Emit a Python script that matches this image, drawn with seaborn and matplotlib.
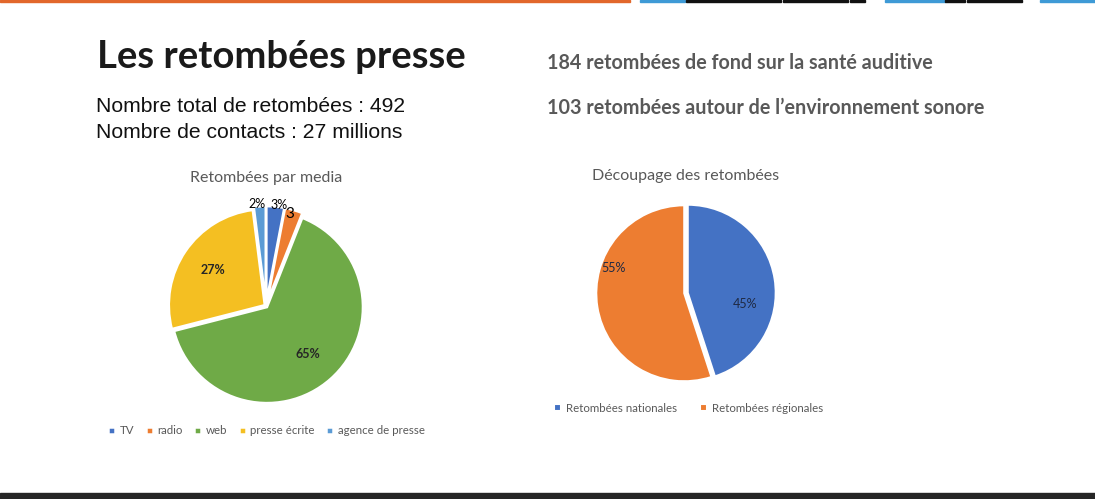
import seaborn as sns, matplotlib.pyplot as plt, numpy as np
from matplotlib.patches import Rectangle

# data
media_labels = ['TV', 'radio', 'web', 'presse écrite', 'agence de presse']
media_pct = [3, 3, 65, 27, 2]
split_labels = ['Retombées nationales', 'Retombées régionales']
split_pct = [45, 55]

title = 'Les retombées presse'
stats_lines = ['Nombre total de retombées : 492', 'Nombre de contacts : 27 millions']
right_lines = ['184 retombées de fond sur la santé auditive',
               '103 retombées autour de l\u2019environnement sonore']

sns.set_theme(style='white')
plt.rcParams['font.family'] = ['Lato', 'DejaVu Sans']

office = sns.color_palette(['#4472C4', '#ED7D31', '#6FAA47', '#F4BF22', '#5B9BD5'])
grey = '#595959'

fig = plt.figure(figsize=(10.95, 4.99), dpi=100)
W, H = 1095, 499

def px_axes(cx, cy, r, lim=1.1):
    s = 2 * lim * r
    return fig.add_axes([(cx - s / 2) / W, (H - cy - s / 2) / H, s / W, s / H])

# slide decorations: thin top band, dark bottom band
fig.patches.append(Rectangle((0, 1 - 2 / H), 630 / W, 2 / H, transform=fig.transFigure,
                             color='#E2672B', zorder=0))
segs = [(640, 45, '#3E9AD6'), (686, 95, '#111111'), (783, 65, '#111111'), (850, 15, '#111111'),
        (885, 60, '#3E9AD6'), (945, 20, '#111111'), (967, 55, '#111111'), (1040, 55, '#3E9AD6')]
for x0, w, c in segs:
    fig.patches.append(Rectangle((x0 / W, 1 - 2 / H), w / W, 2 / H, transform=fig.transFigure,
                                 color=c, zorder=0))
fig.patches.append(Rectangle((0, 0), 1, 6 / H, transform=fig.transFigure, color='#262626', zorder=0))

# header texts
fig.text(97 / W, 1 - 57 / H, title, fontsize=27.5, fontweight='bold', color='#1a1a1a', va='center')
for i, line in enumerate(stats_lines):
    fig.text(96 / W, 1 - (107 + 25 * i) / H, line, fontsize=15.2, family=['Liberation Sans'],
             color='#111111', va='center')
for i, line in enumerate(right_lines):
    fig.text(547 / W, 1 - (63 + 45 * i) / H, line, fontsize=14.2, fontweight='bold',
             color=grey, va='center')

# left pie: retombées par media
ax1 = px_axes(266, 306, 96)
w1, t1, a1 = ax1.pie(media_pct, colors=office, startangle=90, counterclock=False,
                     explode=[0.04, 0.04, 0.015, 0.015, 0.04],
                     autopct=lambda p: f'{p:.0f}%', pctdistance=0.65,
                     wedgeprops=dict(edgecolor='white', linewidth=1.8),
                     textprops=dict(fontsize=9, color='#262626', fontweight='bold'))
for txt, p in zip(a1, media_pct):
    if p < 5:
        x, y = txt.get_position()
        txt.set_position((x / 0.65 * 1.08 * 1.3, y / 0.65 * 1.0))
        txt.set_fontweight('normal')
        txt.set_fontsize(9)
        txt.set_color('black')
a1[1].set_text('3')
a1[1].set_fontsize(11)
a1[1].set_position((0.25, 0.96))
ax1.set_xlim(-1.1, 1.1)
ax1.set_ylim(-1.1, 1.1)
ax1.set_aspect('equal')
ax1.set_title('Retombées par media', fontsize=11.5, color=grey, pad=13)
fig.legend(w1, media_labels, loc='center left', bbox_to_anchor=(98 / W, 1 - 431 / H),
           ncol=5, frameon=False, fontsize=8.3, labelcolor=grey, handlelength=0.6,
           handleheight=0.6, handletextpad=0.4, columnspacing=1.0)

# right pie: découpage des retombées
ax2 = px_axes(686, 293, 88)
w2, t2, a2 = ax2.pie(split_pct, colors=office[:2], startangle=90, counterclock=False,
                     explode=[0.02, 0.02], autopct=lambda p: f'{p:.0f}%', pctdistance=0.7,
                     wedgeprops=dict(edgecolor='white', linewidth=1.5),
                     textprops=dict(fontsize=9, color='#1f2a44'))
a2[0].set_position((0.67, -0.13))
a2[1].set_position((-0.82, 0.28))
ax2.set_xlim(-1.1, 1.1)
ax2.set_ylim(-1.1, 1.1)
ax2.set_aspect('equal')
ax2.set_title('Découpage des retombées', fontsize=11.5, color=grey, pad=12)
fig.legend(w2, split_labels, loc='center left', bbox_to_anchor=(544 / W, 1 - 408 / H),
           ncol=2, frameon=False, fontsize=8.3, labelcolor=grey, handlelength=0.6,
           handleheight=0.6, handletextpad=0.4, columnspacing=2.0)

fig.savefig('out.png', dpi=100, facecolor='white')
